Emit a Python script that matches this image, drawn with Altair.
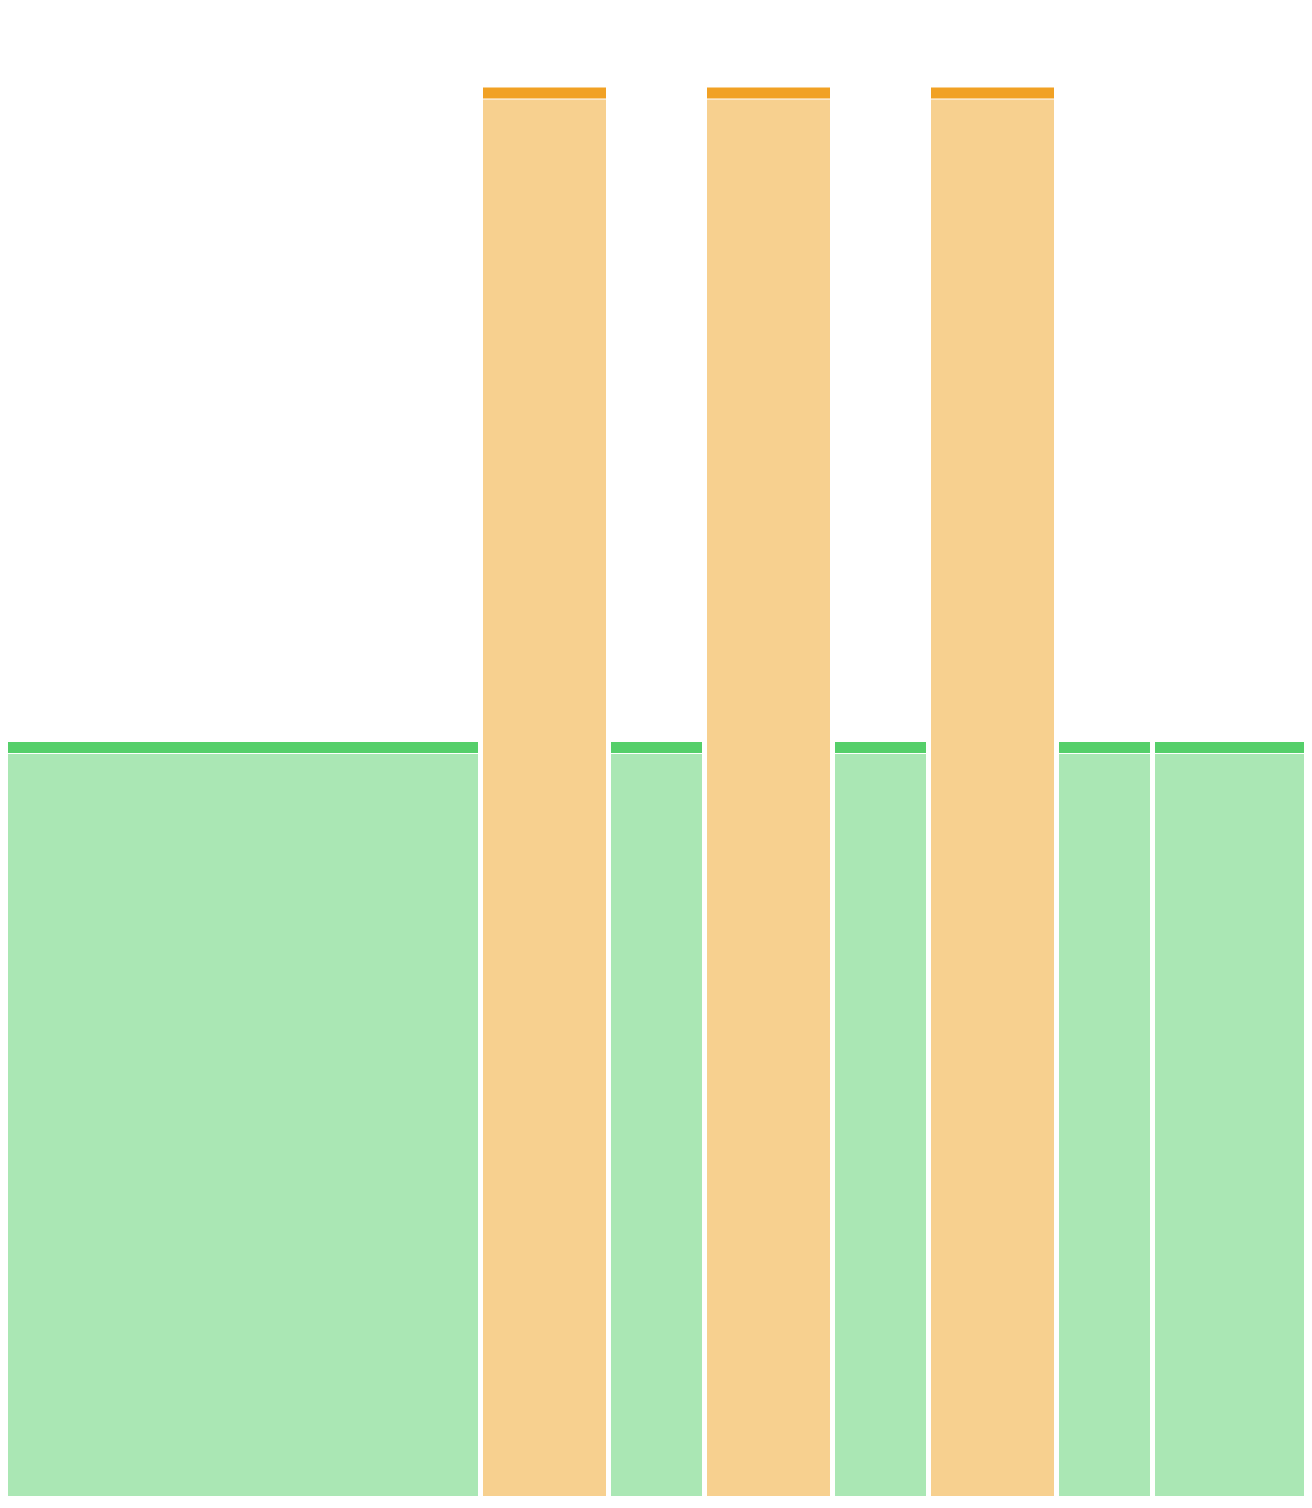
import altair as alt
import pandas as pd

# Block timeline (units of time)
starts = [0, 15, 19, 22, 26, 29, 33, 36]
ends = [15, 19, 22, 26, 29, 33, 36, 41]
kinds = ["green", "orange", "green", "orange", "green", "orange", "green", "green"]
values = [51, 94.7, 51, 94.7, 51, 94.7, 51, 51]

df = pd.DataFrame({"start": starts, "end": ends, "kind": kinds, "value": values})

xs = alt.Scale(domain=[0.25, 40.75], nice=False, zero=False)
ys = alt.Scale(domain=[0.66, 100], nice=False, zero=False)

base = alt.Chart(df).encode(
    x=alt.X("start:Q", scale=xs, axis=None),
    x2="end:Q",
    y=alt.Y("value:Q", scale=ys, axis=None),
    y2=alt.datum(0),
)

dark = base.mark_rect(clip=True, xOffset=3, x2Offset=-2).encode(
    color=alt.Color("kind:N", scale=alt.Scale(domain=["green", "orange"], range=["#55CF6A", "#F1A124"]), legend=None)
)
gap = base.mark_rect(clip=True, xOffset=3, x2Offset=-2, yOffset=11, color="#FFFFFF")
light = base.mark_rect(clip=True, xOffset=3, x2Offset=-2, yOffset=12).encode(
    color=alt.Color("kind:N", scale=alt.Scale(domain=["green", "orange"], range=["#AAE7B4", "#F7D08F"]), legend=None)
)

chart = alt.layer(dark, gap, light).resolve_scale(color="independent").properties(
    width=1296, height=1488, padding=0, autosize=alt.AutoSizeParams(type="none")
).configure_view(stroke=None)

chart.save("out.html", embed_options={"renderer": "svg", "actions": False})
